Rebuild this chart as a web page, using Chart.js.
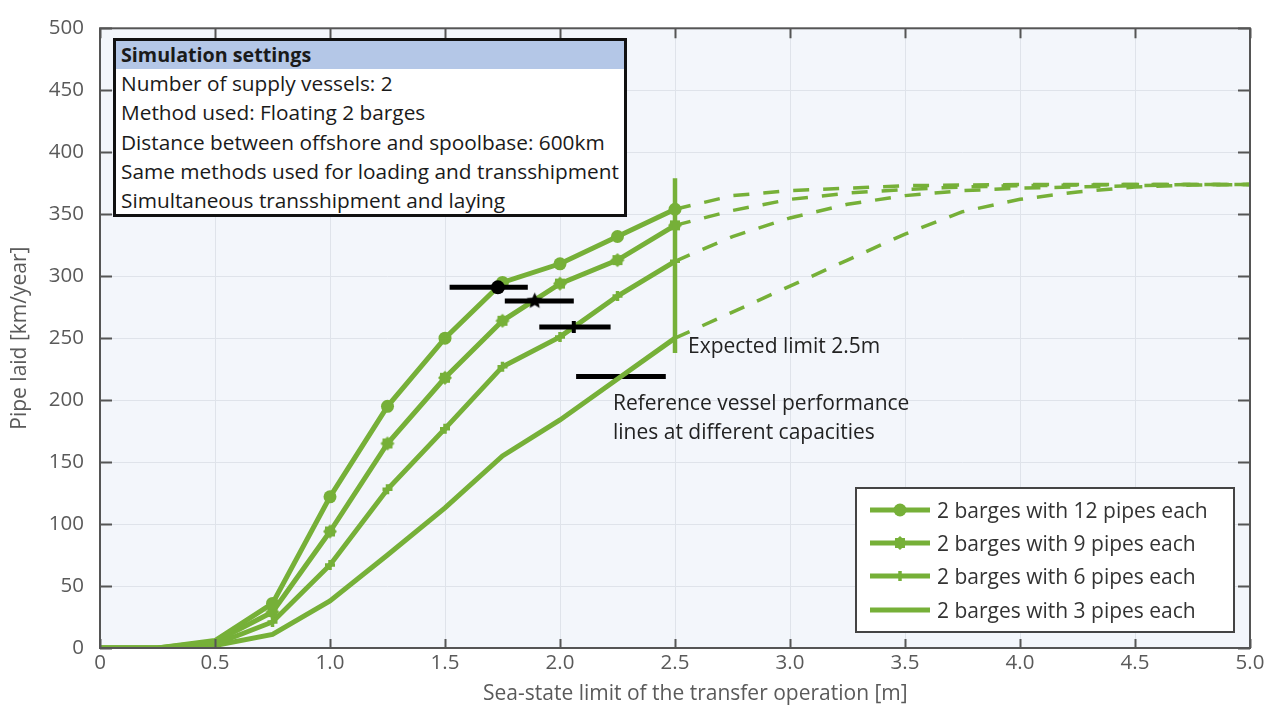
<!DOCTYPE html>
<html>
<head>
<meta charset="utf-8">
<script src="https://cdn.jsdelivr.net/npm/chart.js@4"></script>
<style>
    body { margin: 0; background: #fff; }
    #wrap { position: relative; width: 1274px; height: 705px; font-family: "Open Sans", sans-serif; }
    #settings { position: absolute; left: 113px; top: 38px; width: 514px; height: 179px; box-sizing: border-box;
        border: 3px solid #111; background: #fff; color: #1a1a1a; font-size: 20.8px; }
    #settings .head { background: #b4c7e7; height: 28px; line-height: 28px; padding-left: 5px; font-weight: 700; font-size: 19.7px; }
    #settings .row { line-height: 29.3px; padding-left: 5px; white-space: nowrap; }
    #legend { position: absolute; left: 855px; top: 487px; width: 380px; height: 146px; box-sizing: border-box;
        border: 2px solid #444; background: #fff; padding-top: 4px; }
    #legend .item { height: 33.3px; display: flex; align-items: center; padding-left: 13px; font-size: 21px; color: #333; white-space: nowrap; }
    #legend canvas { margin-right: 7px; }
    .note { position: absolute; color: #222; font-size: 21px; white-space: nowrap; }
    #xTitle { position: absolute; left: 483px; top: 678px; line-height: 28px; font-size: 21px; color: #5a5a5a; white-space: nowrap; }
</style>
</head>
<body>
<div id="wrap">
    <canvas id="pipeChart" width="1274" height="705"></canvas>
    <div id="settings"></div>
    <div id="legend"></div>
    <div class="note" style="left:688px; top:332px; line-height:26px;">Expected limit 2.5m</div>
    <div class="note" style="left:613px; top:388px; line-height:29px;">Reference vessel performance<br>lines at different capacities</div>
    <div id="xTitle">Sea-state limit of the transfer operation [m]</div>
</div>
<script>
// sea-state limit [m] for the simulated part
const seaState = [0, 0.25, 0.5, 0.75, 1.0, 1.25, 1.5, 1.75, 2.0, 2.25, 2.5];
const pipes12 = [0, 0, 6, 36, 122, 195, 250, 295, 310, 332, 354];
const pipes9 = [0, 0, 5, 29, 94, 165, 218, 264, 294, 313, 341];
const pipes6 = [0, 0, 3, 21, 67, 128, 177, 227, 251, 284, 312];
const pipes3 = [0, 0, 2, 11, 38, 75, 113, 155, 184, 217, 250];

// extrapolated part (dashed)
const extState = [2.5, 2.75, 3.0, 3.25, 3.5, 3.75, 4.0, 4.25, 4.5, 4.75, 5.0];
const ext12 = [354, 365, 369, 371, 373, 373.5, 374, 374, 374, 374, 374];
const ext9 = [341, 353, 362, 367, 370, 372, 373, 373.5, 374, 374, 374];
const ext6 = [312, 332, 347, 358, 365, 369, 371, 372, 373, 374, 374];
const ext3 = [250, 271, 292, 313, 334, 352, 362, 368, 372, 373.5, 374];

// reference vessel performance lines: [start, marker, end] and level
const refStart = [1.52, 1.76, 1.91, 2.07];
const refMarker = [1.73, 1.89, 2.06, null];
const refEnd = [1.86, 2.06, 2.22, 2.46];
const refLevel = [291, 280, 259, 219];

// expected limit
const limitX = 2.5;
const limitRange = [238, 379];

const seriesLabels = ["2 barges with 12 pipes each", "2 barges with 9 pipes each", "2 barges with 6 pipes each", "2 barges with 3 pipes each"];
const settingsTitle = "Simulation settings";
const settingsRows = [
    "Number of supply vessels: 2",
    "Method used: Floating 2 barges",
    "Distance between offshore and spoolbase: 600km",
    "Same methods used for loading and transshipment",
    "Simultaneous transshipment and laying"
];

const GREEN = "#76b038";

// draws a filled star shaped marker on its own canvas
function make_star(points, outer, inner, color) {
    const size = Math.ceil(outer * 2 + 2);
    const c = document.createElement("canvas");
    c.width = size; c.height = size;
    const ctx = c.getContext("2d");
    ctx.fillStyle = color;
    ctx.beginPath();
    for (let i = 0; i < points * 2; i++) {
        const r = i % 2 == 0 ? outer : inner;
        const a = -Math.PI / 2 + i * Math.PI / points;
        ctx.lineTo(size / 2 + r * Math.cos(a), size / 2 + r * Math.sin(a));
    }
    ctx.closePath();
    ctx.fill();
    return c;
}

const flowerMarker = make_star(8, 7, 5.5, GREEN);
const blackStar = make_star(5, 8.5, 4, "#000");

function to_points(xs, ys) {
    return xs.map((x, i) => ({ x: x, y: ys[i] }));
}

// marker style per series
const markerStyles = [
    { pointStyle: "circle", radius: 6.5, borderWidth: 0 },
    { pointStyle: flowerMarker, radius: 7, borderWidth: 0 },
    { pointStyle: "cross", radius: 5, borderWidth: 3.5 },
    { pointStyle: false, radius: 0, borderWidth: 0 }
];

const solidData = [pipes12, pipes9, pipes6, pipes3];
const dashData = [ext12, ext9, ext6, ext3];

const datasets = [];
solidData.forEach((vals, i) => {
    const m = markerStyles[i];
    datasets.push({
        label: seriesLabels[i],
        data: to_points(seaState, vals),
        borderColor: GREEN,
        backgroundColor: GREEN,
        borderWidth: 5,
        pointStyle: m.pointStyle,
        pointRadius: vals.map((v, j) => j < 3 ? 0 : m.radius),
        pointBorderWidth: m.borderWidth,
        pointBorderColor: GREEN,
        pointBackgroundColor: GREEN,
        order: 2
    });
    datasets.push({
        label: seriesLabels[i] + " (extrapolated)",
        data: to_points(extState, dashData[i]),
        borderColor: GREEN,
        borderWidth: 3.5,
        borderDash: [16, 14],
        pointRadius: 0,
        order: 2
    });
});

datasets.push({
    label: "Expected limit",
    data: [{ x: limitX, y: limitRange[0] }, { x: limitX, y: limitRange[1] }],
    borderColor: GREEN,
    borderWidth: 4.5,
    pointRadius: 0,
    order: 1
});

const refStyles = [
    { pointStyle: "circle", radius: 7, borderWidth: 0 },
    { pointStyle: blackStar, radius: 8, borderWidth: 0 },
    { pointStyle: "line", radius: 6, borderWidth: 4, rotation: 90 },
    { pointStyle: false, radius: 0, borderWidth: 0 }
];
refLevel.forEach((lvl, i) => {
    const xs = refMarker[i] == null ? [refStart[i], refEnd[i]] : [refStart[i], refMarker[i], refEnd[i]];
    const s = refStyles[i];
    datasets.push({
        label: "Reference " + (i + 1),
        data: xs.map(x => ({ x: x, y: lvl })),
        borderColor: "#000",
        backgroundColor: "#000",
        borderWidth: 5,
        pointStyle: s.pointStyle,
        pointRotation: s.rotation || 0,
        pointRadius: xs.map((x, j) => j == 1 && xs.length == 3 ? s.radius : 0),
        pointBorderWidth: s.borderWidth,
        pointBorderColor: "#000",
        pointBackgroundColor: "#000",
        order: i == 3 ? 5 : 0
    });
});

// plot background + boxed frame with inward ticks
const framePlugin = {
    id: "frame",
    beforeDraw(chart) {
        const { ctx, chartArea: a } = chart;
        ctx.save();
        ctx.fillStyle = "#f3f6fb";
        ctx.fillRect(a.left, a.top, a.right - a.left, a.bottom - a.top);
        ctx.restore();
    },
    afterDatasetsDraw(chart) {
        const { ctx, chartArea: a, scales } = chart;
        ctx.save();
        ctx.strokeStyle = "#555";
        ctx.lineWidth = 2;
        ctx.strokeRect(a.left, a.top, a.right - a.left, a.bottom - a.top);
        ctx.beginPath();
        scales.y.ticks.forEach(t => {
            const y = Math.round(scales.y.getPixelForValue(t.value)) + 0.5;
            ctx.moveTo(a.left, y); ctx.lineTo(a.left + 12, y);
            ctx.moveTo(a.right, y); ctx.lineTo(a.right - 12, y);
        });
        scales.x.ticks.forEach(t => {
            const x = Math.round(scales.x.getPixelForValue(t.value)) + 0.5;
            ctx.moveTo(x, a.top); ctx.lineTo(x, a.top + 10);
            ctx.moveTo(x, a.bottom); ctx.lineTo(x, a.bottom - 9);
        });
        ctx.stroke();
        ctx.restore();
    }
};

new Chart("pipeChart", {
    type: "line",
    data: { datasets: datasets },
    plugins: [framePlugin],
    options: {
        responsive: false,
        animation: false,
        layout: { padding: { left: 0, right: 24, top: 24, bottom: 0 } },
        plugins: { legend: { display: false }, tooltip: { enabled: false } },
        scales: {
            x: {
                type: "linear", min: 0, max: 5,
                ticks: {
                    stepSize: 0.5, padding: 3, color: "#5a5a5a",
                    font: { family: "Open Sans", size: 20.5 },
                    callback: v => v == 0 ? "0" : v.toFixed(1)
                },
                grid: { color: "#dfe3ea", lineWidth: 1, drawTicks: false },
                border: { display: false },
                afterFit: s => { s.height = 57; }
            },
            y: {
                min: 0, max: 500,
                ticks: { stepSize: 50, padding: 16, color: "#5a5a5a", font: { family: "Open Sans", size: 20.5 } },
                grid: { color: "#dfe3ea", lineWidth: 1, drawTicks: false },
                border: { display: false },
                title: {
                    display: true, text: "Pipe laid [km/year]",
                    color: "#5a5a5a", font: { family: "Open Sans", size: 21 }, padding: { top: 7, bottom: 0 }
                },
                afterFit: s => { s.width = 100; }
            }
        }
    }
});

// settings box
const settingsBox = document.getElementById("settings");
settingsBox.innerHTML = `<div class="head">${settingsTitle}</div>` + settingsRows.map(r => `<div class="row">${r}</div>`).join("");

// legend with small drawn samples
const legendBox = document.getElementById("legend");
seriesLabels.forEach((label, i) => {
    const item = document.createElement("div");
    item.className = "item";
    const c = document.createElement("canvas");
    c.width = 60; c.height = 18;
    const ctx = c.getContext("2d");
    ctx.strokeStyle = GREEN; ctx.fillStyle = GREEN; ctx.lineWidth = 5;
    ctx.beginPath(); ctx.moveTo(0, 9); ctx.lineTo(60, 9); ctx.stroke();
    const m = markerStyles[i];
    if (m.pointStyle == "circle") {
        ctx.beginPath(); ctx.arc(30, 9, m.radius, 0, Math.PI * 2); ctx.fill();
    } else if (m.pointStyle == "cross") {
        ctx.lineWidth = m.borderWidth;
        ctx.beginPath(); ctx.moveTo(30, 9 - m.radius); ctx.lineTo(30, 9 + m.radius); ctx.stroke();
    } else if (m.pointStyle) {
        ctx.drawImage(m.pointStyle, 30 - m.pointStyle.width / 2, 9 - m.pointStyle.height / 2);
    }
    item.appendChild(c);
    const span = document.createElement("span");
    span.textContent = label;
    item.appendChild(span);
    legendBox.appendChild(item);
});
</script>
</body>
</html>
